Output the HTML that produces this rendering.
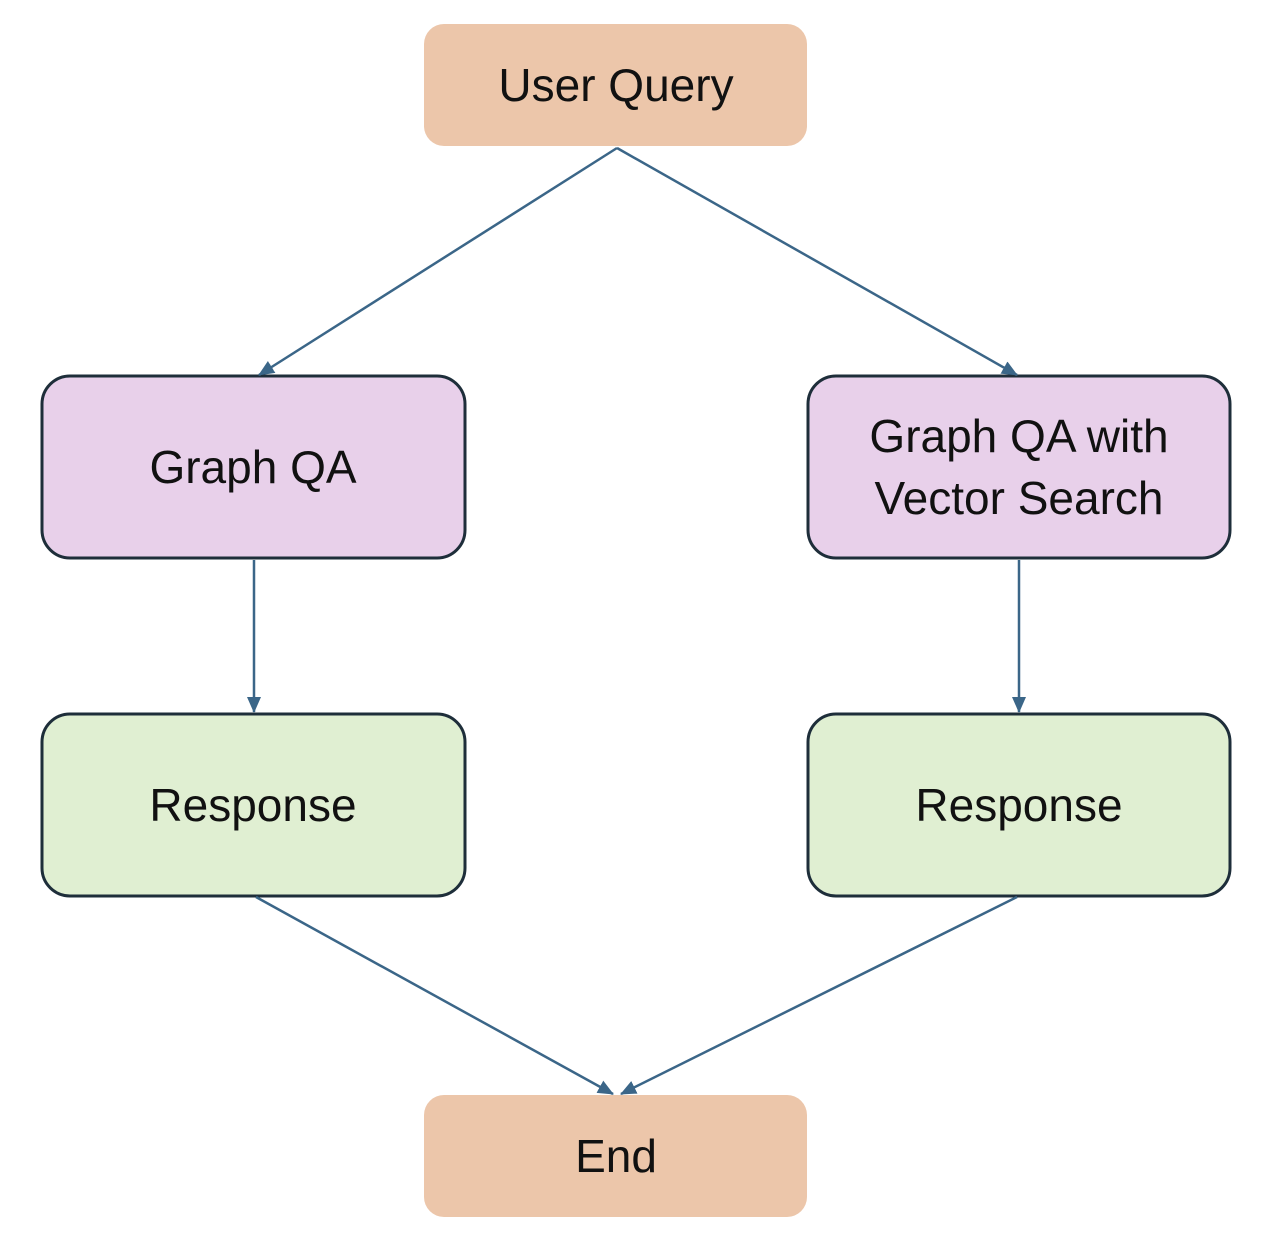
<!DOCTYPE html>
<html><head><meta charset="utf-8"><style>
body{margin:0;background:#fff;}
svg text{font-family:"Liberation Sans",sans-serif;font-size:46px;fill:#111;text-anchor:middle;}
</style></head><body>
<svg width="1262" height="1239" viewBox="0 0 1262 1239" xmlns="http://www.w3.org/2000/svg">
<defs><marker id="a" markerWidth="10" markerHeight="10" refX="9" refY="5" orient="auto" markerUnits="userSpaceOnUse"><path d="M0,0 L10,5 L0,10 Z" fill="#3b6688"/></marker>
<marker id="b" markerWidth="16" markerHeight="14" refX="15" refY="7" orient="auto" markerUnits="userSpaceOnUse"><path d="M0,0 L16,7 L0,14 Z" fill="#3b6688"/></marker></defs>
<rect x="424" y="24" width="383" height="122" rx="20" fill="#ecc6aa"/>
<rect x="424" y="1095" width="383" height="122" rx="20" fill="#ecc6aa"/>
<rect x="42" y="376" width="423" height="182" rx="28" fill="#e8d0ea" stroke="#1e2e3a" stroke-width="3"/>
<rect x="808" y="376" width="422" height="182" rx="28" fill="#e8d0ea" stroke="#1e2e3a" stroke-width="3"/>
<rect x="42" y="714" width="423" height="182" rx="28" fill="#e0efd2" stroke="#1e2e3a" stroke-width="3"/>
<rect x="808" y="714" width="422" height="182" rx="28" fill="#e0efd2" stroke="#1e2e3a" stroke-width="3"/>
<g stroke="#3b6688" stroke-width="2.5" fill="none">
<line x1="617" y1="148" x2="259" y2="375" marker-end="url(#b)"/>
<line x1="617" y1="148" x2="1017" y2="375" marker-end="url(#b)"/>
<line x1="254" y1="560" x2="254" y2="712" marker-end="url(#b)"/>
<line x1="1019" y1="560" x2="1019" y2="712" marker-end="url(#b)"/>
<line x1="256" y1="897" x2="613" y2="1094" marker-end="url(#b)"/>
<line x1="1017" y1="897" x2="621" y2="1094" marker-end="url(#b)"/>
</g>
<text x="616" y="101">User Query</text>
<text x="253" y="483">Graph QA</text>
<text x="1019" y="452">Graph QA with</text>
<text x="1019" y="514">Vector Search</text>
<text x="253" y="821">Response</text>
<text x="1019" y="821">Response</text>
<text x="616" y="1172">End</text>
</svg>
</body></html>
